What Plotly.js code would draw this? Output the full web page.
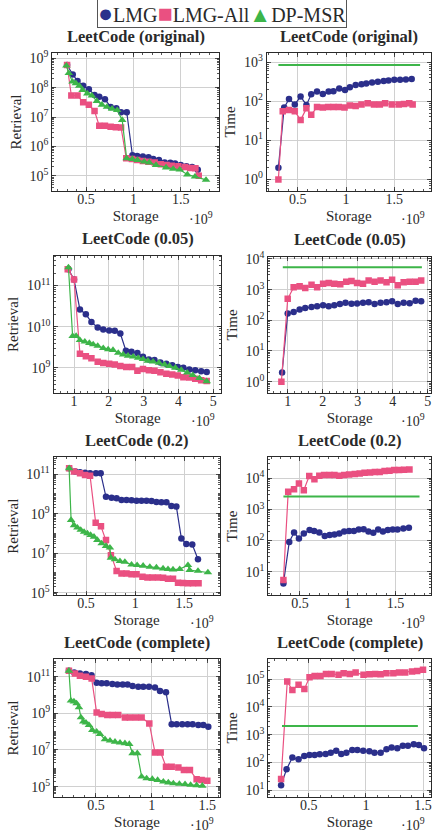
<!DOCTYPE html>
<html><head><meta charset="utf-8">
<script src="https://cdn.plot.ly/plotly-3.0.1.min.js"></script>
<style>html,body{margin:0;padding:0;background:#fff}#chart{width:432px;height:834px}</style>
</head><body><div id="chart"></div>
<script>
// ===== LeetCode (original) =====
const orig_LMG_storage = [0.30,0.36,0.41,0.47,0.53,0.59,0.64,0.70,0.76,0.82,0.87,0.93,0.99,1.04,1.10,1.16,1.21,1.27,1.33,1.39,1.44,1.50,1.56,1.62,1.68];
const orig_LMG_retrieval = [5.9e8,2.8e8,1.7e8,1.15e8,8.9e7,5.6e7,4.9e7,4.0e7,2.2e7,2.0e7,1.45e7,1.45e7,5.0e5,4.7e5,4.5e5,4.3e5,3.7e5,3.4e5,2.8e5,2.75e5,2.6e5,2.3e5,2.1e5,2.0e5,1.6e5];
const orig_LMG_time = [2,69,115,83,132,81,151,178,155,178,182,214,195,229,263,275,288,302,316,331,339,355,355,363,372];
const orig_All_storage = [0.30,0.345,0.41,0.47,0.53,0.59,0.64,0.70,0.76,0.815,0.87,0.925,0.985,1.04,1.10,1.16,1.225,1.29,1.35,1.405,1.475,1.545,1.60,1.655,1.69];
const orig_All_retrieval = [5.9e8,5.4e7,5.4e7,3.2e7,2.6e7,1.6e7,5.0e6,5.0e6,4.7e6,4.5e6,4.4e6,3.9e5,3.7e5,3.4e5,3.2e5,3.0e5,2.8e5,2.45e5,2.3e5,2.2e5,2.1e5,2.0e5,1.85e5,1.8e5,1.0e5];
const orig_All_time = [1,56,60,56,33,66,45,71,69,72,71,72,69,78,76,83,89,83,83,89,83,83,85,89,83];
const orig_DP_storage = [0.293,0.318,0.357,0.393,0.429,0.464,0.514,0.561,0.614,0.668,0.721,0.775,0.829,0.882,0.929,0.989,1.043,1.114,1.168,1.239,1.345,1.42,1.49,1.57,1.65,1.767];
const orig_DP_retrieval = [5.6e8,3.1e8,1.6e8,1.4e8,1.15e8,8.3e7,6.3e7,5.4e7,3.5e7,2.6e7,2.2e7,1.9e7,1.7e7,7.9e6,3.9e5,3.7e5,3.4e5,3.0e5,2.8e5,2.3e5,1.9e5,1.7e5,1.6e5,1.1e5,9.3e4,7.2e4];
const orig_DP_time_storage = [0.30,1.767];
const orig_DP_time = [850,850];

// ===== LeetCode (0.05) =====
const p05_LMG_storage = [0.84,1.0,1.17,1.34,1.5,1.68,1.84,2.01,2.17,2.33,2.49,2.65,2.82,2.98,3.15,3.31,3.48,3.65,3.82,3.98,4.14,4.31,4.48,4.65,4.81];
const p05_LMG_retrieval = [2.5e11,1.4e11,2.6e10,2.0e10,1.3e10,9.5e9,8.5e9,8.1e9,7.9e9,6.8e9,2.6e9,2.45e9,2.3e9,1.86e9,1.6e9,1.55e9,1.35e9,1.26e9,1.15e9,1.05e9,1.0e9,9.1e8,8.7e8,8.3e8,7.9e8];
const p05_LMG_time = [2,166,186,224,251,269,288,309,288,309,339,372,347,355,372,389,339,372,389,417,339,372,363,437,417];
const p05_All_storage = [0.82,1.0,1.17,1.34,1.5,1.68,1.84,2.01,2.17,2.33,2.5,2.67,2.82,2.98,3.15,3.31,3.48,3.65,3.82,3.98,4.14,4.31,4.48,4.65,4.81];
const p05_All_retrieval = [2.5e11,1.4e11,2.2e9,1.9e9,1.7e9,1.4e9,1.3e9,1.26e9,1.2e9,1.1e9,1.05e9,1.05e9,8.5e8,9.3e8,8.7e8,8.5e8,7.8e8,7.2e8,6.9e8,6.5e8,5.9e8,5.8e8,5.4e8,5.0e8,4.8e8];
const p05_All_time = [1,500,1200,1290,1120,1450,1200,1550,1660,1550,1510,1820,1900,1660,1550,2000,1820,2000,1740,2090,1380,1740,1820,1820,2000];
const p05_DP_storage = [0.84,0.96,1.06,1.17,1.31,1.44,1.55,1.68,1.84,1.98,2.12,2.27,2.41,2.55,2.7,2.84,2.98,3.12,3.27,3.44,3.6,3.74,3.91,4.08,4.25,4.41,4.6,4.81];
const p05_DP_retrieval = [2.75e11,5.9e9,5.9e9,4.7e9,4.3e9,4.0e9,3.7e9,3.4e9,3.0e9,2.8e9,2.7e9,2.3e9,2.1e9,1.95e9,1.86e9,1.74e9,1.62e9,1.48e9,1.41e9,1.32e9,1.2e9,1.1e9,1.0e9,8.9e8,7.6e8,6.6e8,5.6e8,4.7e8];
const p05_DP_time_storage = [0.86,4.83];
const p05_DP_time = [5400,5400];

// ===== LeetCode (0.2) =====
const p02_LMG_storage = [0.328,0.389,0.439,0.49,0.541,0.601,0.649,0.703,0.76,0.811,0.861,0.912,0.963,1.014,1.064,1.115,1.166,1.216,1.267,1.318,1.368,1.419,1.47,1.52,1.581,1.639];
const p02_LMG_retrieval = [2.0e11,1.4e11,1.26e11,1.2e11,1.12e11,1.12e11,1.12e11,7.2e9,6.5e9,6.0e9,4.9e9,4.9e9,4.8e9,4.6e9,4.6e9,4.6e9,4.4e9,3.9e9,3.8e9,3.8e9,2.45e9,2.3e9,5.6e7,2.9e7,2.75e7,4.9e6];
const p02_LMG_time = [4.2,91,182,117,170,219,204,182,141,151,158,170,195,204,204,229,234,195,178,229,195,219,229,229,245,257];
const p02_All_storage = [0.328,0.378,0.439,0.49,0.541,0.598,0.652,0.703,0.753,0.811,0.861,0.912,0.963,1.014,1.074,1.125,1.176,1.233,1.284,1.334,1.385,1.436,1.486,1.537,1.588,1.645];
const p02_All_retrieval = [2.0e11,1.4e11,1.12e11,9.3e10,8.5e10,3.5e8,2.3e8,4.6e7,7.9e6,1.26e6,9.3e5,9.3e5,8.5e5,8.5e5,6.3e5,5.8e5,5.8e5,5.8e5,5.6e5,5.1e5,5.1e5,3.2e5,3.1e5,3.0e5,3.0e5,3.0e5];
const p02_All_time = [5.4,3700,4500,6900,4200,12000,9500,12300,12900,12900,12900,12300,12900,13500,13800,14500,15100,15500,16200,16200,17400,17800,18600,18600,19100,19500];
const p02_DP_storage = [0.328,0.348,0.378,0.412,0.446,0.48,0.514,0.547,0.581,0.615,0.659,0.703,0.743,0.753,0.794,0.845,0.895,0.963,1.02,1.081,1.149,1.216,1.284,1.334,1.385,1.453,1.537,1.554,1.639,1.74];
const p02_DP_retrieval = [2.0e11,4.8e8,2.6e8,1.95e8,1.5e8,1.2e8,1.0e8,8.3e7,6.8e7,4.6e7,3.1e7,2.3e7,1.9e7,5.8e6,4.8e6,3.9e6,3.6e6,2.6e6,2.45e6,2.3e6,2.0e6,1.86e6,1.66e6,1.55e6,1.48e6,1.55e6,2.45e6,1.38e6,1.26e6,1.05e6];
const p02_DP_time_storage = [0.328,1.75];
const p02_DP_time = [2600,2600];

// ===== LeetCode (complete) =====
const comp_LMG_storage = [0.257,0.305,0.356,0.41,0.46,0.506,0.551,0.596,0.647,0.692,0.74,0.784,0.829,0.88,0.925,0.976,1.03,1.075,1.129,1.18,1.225,1.275,1.323,1.368,1.419,1.464,1.509];
const comp_LMG_retrieval = [2.1e11,1.7e11,1.5e11,1.4e11,1.2e11,4.7e10,4.4e10,4.4e10,4.0e10,3.8e10,3.8e10,3.8e10,3.1e10,2.8e10,2.8e10,2.8e10,2.6e10,1.66e10,1.4e10,2.5e8,2.5e8,2.5e8,2.5e8,2.5e8,2.3e8,2.3e8,1.86e8];
const comp_LMG_time = [15,56,151,129,170,186,186,195,200,224,263,200,224,282,282,263,251,224,224,295,347,324,398,398,447,427,324];
const comp_All_storage = [0.257,0.311,0.356,0.41,0.461,0.506,0.551,0.602,0.65,0.7,0.76,0.805,0.859,0.91,0.979,1.03,1.081,1.129,1.18,1.24,1.29,1.344,1.404,1.449,1.5];
const comp_All_retrieval = [2.1e11,1.5e11,1.12e11,1.0e11,8.1e10,1.1e9,9.1e8,8.1e8,8.1e8,8.1e8,6.0e8,6.0e8,6.0e8,6.0e8,2.8e8,7.4e6,7.4e6,1.23e6,1.23e6,1.12e6,8.1e5,8.1e5,2.5e5,2.3e5,2.1e5];
const comp_All_time = [25,83000,41000,63000,44000,117000,132000,132000,155000,155000,145000,166000,155000,174000,145000,151000,155000,151000,166000,166000,174000,174000,191000,200000,219000];
const comp_DP_storage = [0.257,0.275,0.302,0.326,0.347,0.365,0.386,0.41,0.437,0.467,0.506,0.536,0.581,0.626,0.671,0.716,0.76,0.799,0.829,0.871,0.91,0.955,1.006,1.054,1.105,1.15,1.195,1.249,1.3,1.35,1.404,1.455];
const comp_DP_retrieval = [2.1e11,4.9e9,4.4e9,3.5e9,2.1e9,6.0e8,3.5e8,3.1e8,2.3e8,1.23e8,1.0e8,7.4e7,3.8e7,3.2e7,2.8e7,2.5e7,2.3e7,2.1e7,6.6e6,6.6e6,3.5e5,2.8e5,2.6e5,2.3e5,1.86e5,1.66e5,1.5e5,1.4e5,1.35e5,1.23e5,1.17e5,1.1e5];
const comp_DP_time_storage = [0.265,1.455];
const comp_DP_time = [2050,2050];

// ===== tick labels =====
const xTicksHalf = [0.5,1,1.5];
const xTickTextHalf = ['0.5','1','1.5'];
const xTicksUnit = [1,2,3,4,5];
const xTickTextUnit = ['1','2','3','4','5'];
const seriesNames = ['LMG','LMG-All','DP-MSR'];

// ===== rendering =====
const W = 432, H = 834;
const FONT = '"Liberation Serif","DejaVu Serif",serif';
const COL = {LMG:'#2b2f8b', All:'#ea5081', DP:'#3db549'};
const INK = '#2a2a2a';

const panels = [
 {title:'LeetCode (original)', yt:'Retrieval', box:[52.3,219,53.3,190.7], xr:[0.144,1.904], yr:[4.49,9.17], xt:[xTicksHalf,xTickTextHalf], xm:0.1, yv:[1e5,1e6,1e7,1e8,1e9],
  s:[['LMG',orig_LMG_storage,orig_LMG_retrieval],['All',orig_All_storage,orig_All_retrieval],['DP',orig_DP_storage,orig_DP_retrieval]]},
 {title:'LeetCode (original)', yt:'Time', box:[266.7,431,53.3,190.7], xr:[0.179,1.88], yr:[-0.29,3.23], xt:[xTicksHalf,xTickTextHalf], xm:0.1, yv:[1,10,100,1000],
  s:[['LMG',orig_LMG_storage,orig_LMG_time],['All',orig_All_storage,orig_All_time],['DPline',orig_DP_time_storage,orig_DP_time]]},
 {title:'LeetCode (0.05)', yt:'Retrieval', box:[54.3,221,255.5,393.3], xr:[0.434,5.22], yr:[8.38,11.73], xt:[xTicksUnit,xTickTextUnit], xm:0.2, yv:[1e9,1e10,1e11],
  s:[['LMG',p05_LMG_storage,p05_LMG_retrieval],['All',p05_All_storage,p05_All_retrieval],['DP',p05_DP_storage,p05_DP_retrieval]]},
 {title:'LeetCode (0.05)', yt:'Time', box:[268.3,431,256.5,393.3], xr:[0.446,5.09], yr:[-0.38,4.08], xt:[xTicksUnit,xTickTextUnit], xm:0.2, yv:[1,10,100,1000,10000],
  s:[['LMG',p05_LMG_storage,p05_LMG_time],['All',p05_All_storage,p05_All_time],['DPline',p05_DP_time_storage,p05_DP_time]]},
 {title:'LeetCode (0.2)', yt:'Retrieval', box:[53.5,220,457.3,595], xr:[0.169,1.863], yr:[4.88,11.86], xt:[xTicksHalf,xTickTextHalf], xm:0.1, yv:[1e5,1e7,1e9,1e11],
  s:[['LMG',p02_LMG_storage,p02_LMG_retrieval],['All',p02_All_storage,p02_All_retrieval],['DP',p02_DP_storage,p02_DP_retrieval]]},
 {title:'LeetCode (0.2)', yt:'Time', box:[268.3,431,457.3,595], xr:[0.17,1.87], yr:[0.25,4.68], xt:[xTicksHalf,xTickTextHalf], xm:0.1, yv:[10,100,1000,10000],
  s:[['LMG',p02_LMG_storage,p02_LMG_time],['All',p02_All_storage,p02_All_time],['DPline',p02_DP_time_storage,p02_DP_time]]},
 {title:'LeetCode (complete)', yt:'Retrieval', box:[54,220,659.3,796.7], xr:[0.123,1.614], yr:[4.45,11.95], xt:[xTicksHalf,xTickTextHalf], xm:0.1, yv:[1e5,1e7,1e9,1e11],
  s:[['LMG',comp_LMG_storage,comp_LMG_retrieval],['All',comp_All_storage,comp_All_retrieval],['DP',comp_DP_storage,comp_DP_retrieval]]},
 {title:'LeetCode (complete)', yt:'Time', box:[268.3,431,659.3,796.7], xr:[0.145,1.57], yr:[0.76,5.72], xt:[xTicksHalf,xTickTextHalf], xm:0.1, yv:[10,100,1000,10000,100000],
  s:[['LMG',comp_LMG_storage,comp_LMG_time],['All',comp_All_storage,comp_All_time],['DPline',comp_DP_time_storage,comp_DP_time]]}
];

const traces = [];
const layout = {
  width: W, height: H, margin:{l:0,r:0,t:0,b:0}, showlegend:false,
  paper_bgcolor:'#fff', plot_bgcolor:'#fff', font:{family:FONT,color:INK},
  annotations: [], shapes: []
};

const tickText = v => '10<sup>' + Math.round(Math.log10(v)) + '</sup>';

panels.forEach((p, i) => {
  const n = i + 1, xa = 'x' + (n>1?n:''), ya = 'y' + (n>1?n:'');
  const [x0,x1,y0,y1] = p.box;
  p.s.forEach(([kind, xs, ys]) => {
    const t = {x: xs, y: ys, xaxis: xa, yaxis: ya, type:'scatter', hoverinfo:'skip', cliponaxis:true};
    if (kind === 'DPline') {
      t.mode = 'lines'; t.line = {color: COL.DP, width: 2}; t.name = seriesNames[2];
    } else {
      t.mode = 'lines+markers';
      t.line = {color: COL[kind], width: 1.2};
      t.name = kind === 'LMG' ? seriesNames[0] : kind === 'All' ? seriesNames[1] : seriesNames[2];
      t.marker = kind === 'LMG' ? {symbol:'circle', size:6.5, color:COL.LMG}
               : kind === 'All' ? {symbol:'square', size:6.5, color:COL.All}
               : {symbol:'triangle-up', size:7.5, color:COL.DP};
    }
    traces.push(t);
  });
  const common = {
    ticks:'inside', ticklen:4, tickwidth:0.8, tickcolor:INK, mirror:'allticks',
    showline:true, linecolor:INK, linewidth:1, showgrid:true, gridcolor:'#d0d0d0', gridwidth:1,
    zeroline:false, fixedrange:true, tickfont:{family:FONT, size:14, color:INK}
  };
  layout['xaxis' + (n>1?n:'')] = Object.assign({}, common, {
    domain:[x0/W, x1/W], range:p.xr, anchor:ya, tickmode:'array', tickvals:p.xt[0], ticktext:p.xt[1],
    ticklabelstandoff:-5,
    minor:{ticks:'inside', ticklen:2, tickcolor:INK, dtick:p.xm, tick0:0, showgrid:false},
    title:{text:'Storage', font:{family:FONT, size:15, color:INK}, standoff:4}
  });
  layout['yaxis' + (n>1?n:'')] = Object.assign({}, common, {
    type:'log', domain:[1 - y1/H, 1 - y0/H], range:p.yr, anchor:xa, tickmode:'array',
    tickvals:p.yv, ticktext:p.yv.map(tickText),
    minor:{ticks:'inside', ticklen:2, tickcolor:INK, dtick:'D1', showgrid:false},
    title:{text:p.yt, font:{family:FONT, size:15, color:INK}, standoff:4}
  });
  layout.annotations.push({
    text:'<b>' + p.title + '</b>', xref:'paper', yref:'paper', x:(x0+x1)/2/W, y:1 - (y0-17)/H,
    xanchor:'center', yanchor:'middle', showarrow:false, font:{family:FONT, size:16.5, color:INK}
  });
  layout.annotations.push({
    text:'·10<sup>9</sup>', xref:'paper', yref:'paper', x:(x1-4)/W, y:1 - (y1+27)/H,
    xanchor:'right', yanchor:'middle', showarrow:false, font:{family:FONT, size:14, color:INK}
  });
});

const sym = (c, s) => '<span style="color:' + c + ';font-size:' + s + 'px">';
layout.annotations.push({
  text: sym(COL.LMG, 25) + '●</span>' + seriesNames[0] +
        sym(COL.All, 25) + '■</span>' + seriesNames[1] +
        sym(COL.DP, 22) + '▲</span>' + seriesNames[2],
  xref:'paper', yref:'paper', x:221.5/W, y:1 - 13/H, xanchor:'center', yanchor:'middle',
  showarrow:false, font:{family:FONT, size:20, color:INK},
  bordercolor:'#555', borderwidth:1, borderpad:0, bgcolor:'#fff'
});

Plotly.newPlot('chart', traces, layout, {staticPlot:true, displayModeBar:false});
</script></body></html>
